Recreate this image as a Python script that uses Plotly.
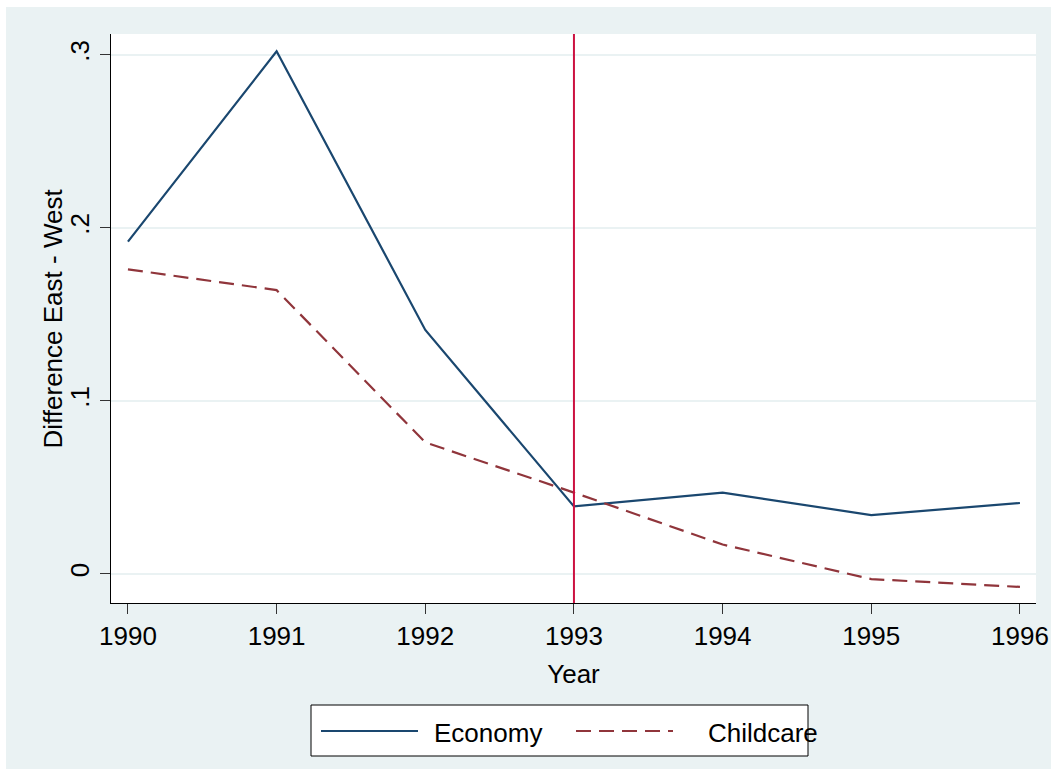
import plotly.graph_objects as go

years = [1990, 1991, 1992, 1993, 1994, 1995, 1996]
economy = [0.192, 0.302, 0.141, 0.039, 0.047, 0.034, 0.041]
childcare = [0.176, 0.164, 0.076, 0.047, 0.017, -0.003, -0.0075]
y_ticks = [0, 0.1, 0.2, 0.3]
y_ticklabels = ["0", ".1", ".2", ".3"]
x_ticks = years
event_year = 1993

W, H = 1051, 769
L, R, T, B = 111, 1036, 34, 603
NAVY = "#1a476f"
MAROON = "#90353b"
BG = "#eaf2f3"
RED = "#cc1141"
FONT = "Liberation Sans, Arial, sans-serif"
FS = 26


def px_x(p):
    return (p - L) / (R - L)


def px_y(p):
    return (B - p) / (B - T)


fig = go.Figure()
fig.add_trace(go.Scatter(x=years, y=economy, mode="lines", name="Economy",
                         line=dict(color=NAVY, width=2.2), showlegend=False))
fig.add_trace(go.Scatter(x=years, y=childcare, mode="lines", name="Childcare",
                         line=dict(color=MAROON, width=2.2, dash="15px,8px"),
                         showlegend=False))

shapes = [
    # outer Stata-like background
    dict(type="rect", xref="paper", yref="paper", x0=px_x(6), x1=px_x(W + 30),
         y0=px_y(7), y1=px_y(H + 5), fillcolor=BG, line=dict(width=0), layer="below"),
    dict(type="rect", xref="paper", yref="paper", x0=0, x1=1, y0=0, y1=1,
         fillcolor="white", line=dict(width=0), layer="below"),
    # event line
    dict(type="line", xref="x", yref="paper", x0=event_year, x1=event_year, y0=0, y1=1,
         line=dict(color=RED, width=2)),
    # legend box
    dict(type="rect", xref="paper", yref="paper", x0=px_x(311), x1=px_x(808),
         y0=px_y(705), y1=px_y(756), fillcolor="white", line=dict(color="black", width=1)),
    dict(type="line", xref="paper", yref="paper", x0=px_x(321), x1=px_x(418),
         y0=px_y(731), y1=px_y(731), line=dict(color=NAVY, width=2.2)),
    dict(type="line", xref="paper", yref="paper", x0=px_x(576), x1=px_x(673),
         y0=px_y(731), y1=px_y(731), line=dict(color=MAROON, width=2.2, dash="15px,8px")),
]

annotations = [
    dict(xref="paper", yref="paper", x=px_x(432), y=px_y(733), xanchor="left",
         yanchor="middle", text="Economy", showarrow=False,
         font=dict(family=FONT, size=FS, color="black")),
    dict(xref="paper", yref="paper", x=px_x(706), y=px_y(733), xanchor="left",
         yanchor="middle", text="Childcare", showarrow=False,
         font=dict(family=FONT, size=FS, color="black")),
    dict(xref="paper", yref="paper", x=px_x(52), y=0.5, xanchor="center",
         yanchor="middle", text="Difference East - West", textangle=-90, showarrow=False,
         font=dict(family=FONT, size=FS, color="black")),
]

fig.update_layout(
    width=W, height=H, autosize=False,
    margin=dict(l=L, r=W - R, t=T, b=H - B),
    paper_bgcolor="white", plot_bgcolor="rgba(0,0,0,0)",
    font=dict(family=FONT, size=FS, color="black"),
    shapes=shapes, annotations=annotations, showlegend=False,
)
fig.update_xaxes(
    range=[1989.886, 1996.108], tickvals=x_ticks, ticktext=[str(y) for y in x_ticks],
    ticks="outside", ticklen=10, tickcolor="#333", tickwidth=1.3, automargin=False,
    showline=True, linecolor="black", linewidth=1.3, showgrid=False, zeroline=False,
    tickfont=dict(size=FS), title=dict(text="Year", font=dict(size=FS), standoff=14),
)
fig.update_yaxes(
    range=[-0.0168, 0.312], tickvals=y_ticks, ticktext=y_ticklabels, tickangle=-90,
    ticks="outside", ticklen=10, tickcolor="#333", tickwidth=1.3, automargin=False,
    showline=True, linecolor="black", linewidth=1.3,
    showgrid=True, gridcolor=BG, gridwidth=1.6, zeroline=False,
    tickfont=dict(size=FS),
)

fig.write_html(
    "out.html",
    config={"responsive": False, "displayModeBar": False},
    post_script="document.body.style.margin='0';document.body.style.overflow='hidden';",
)
